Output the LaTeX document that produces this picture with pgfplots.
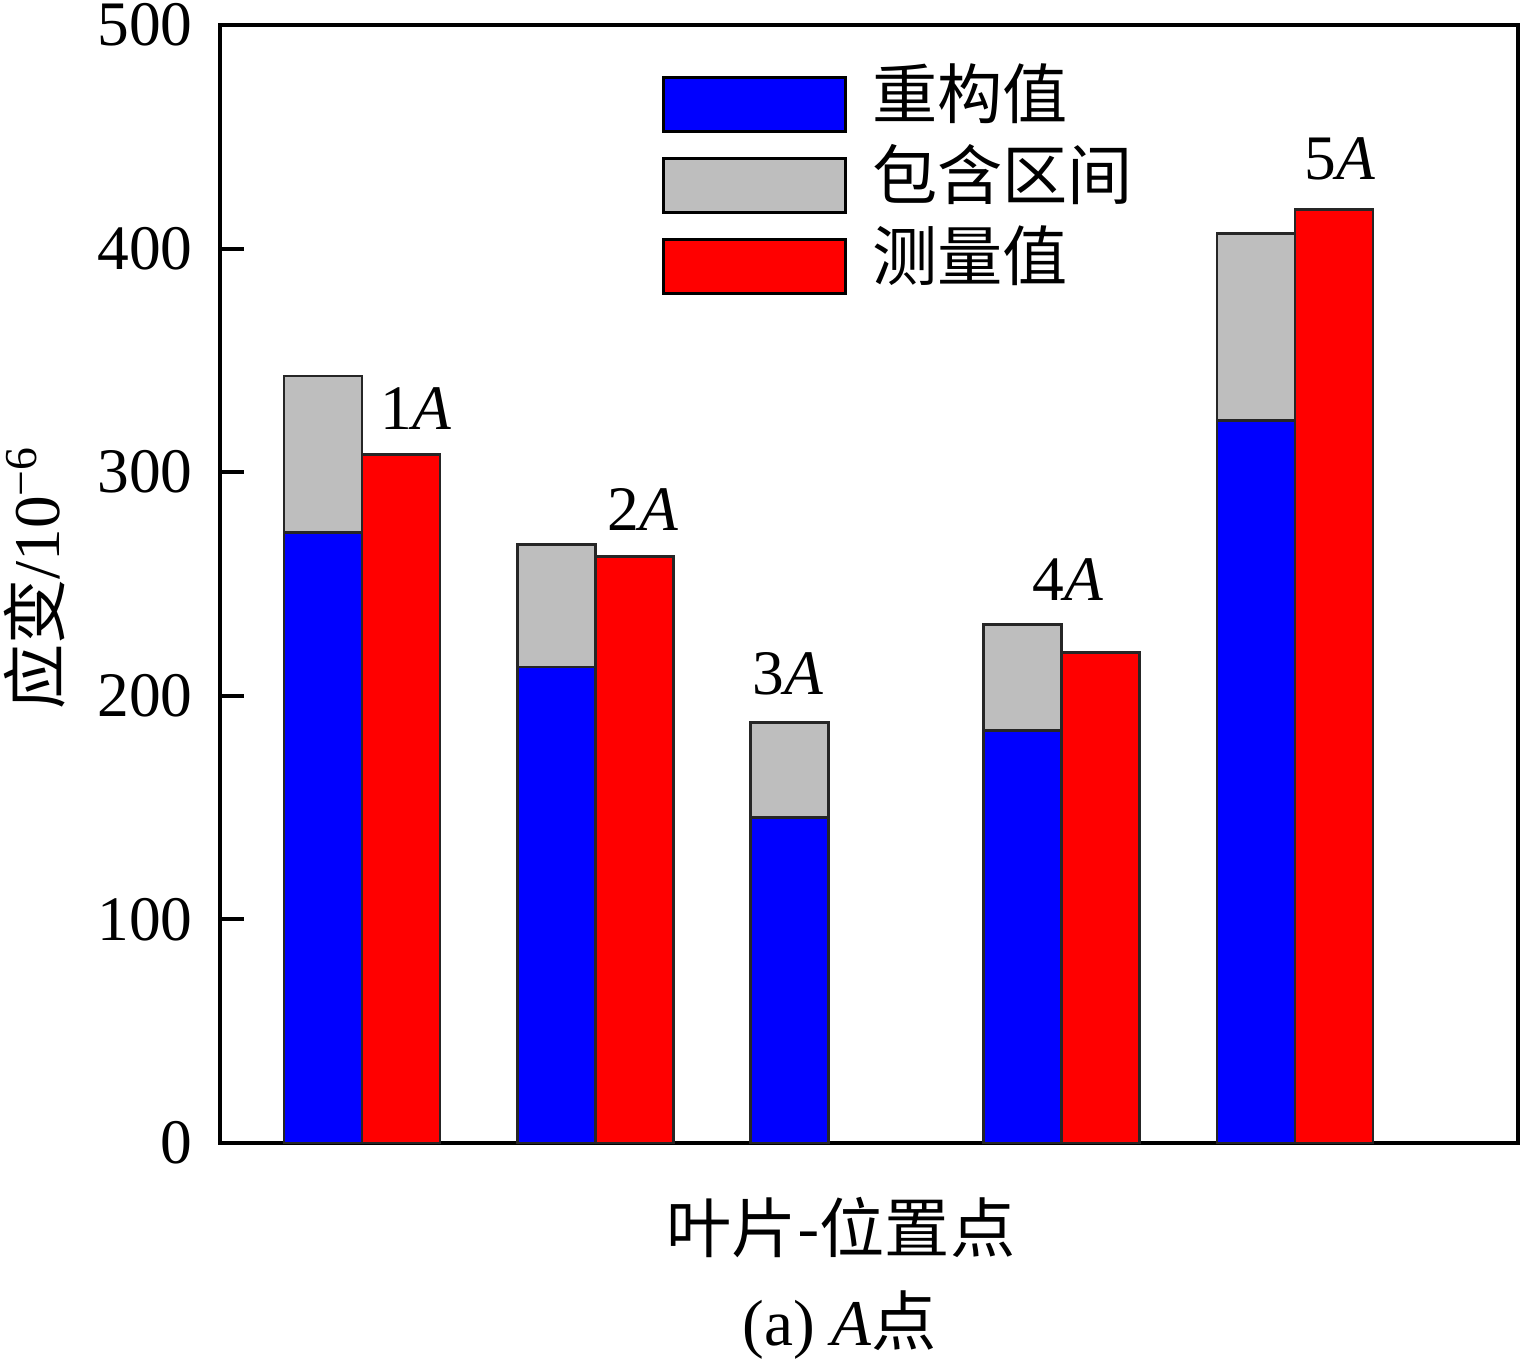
\documentclass[border=0pt]{standalone}
\usepackage{fontspec}
\setmainfont{Liberation Serif}
\newfontfamily\cjk{Noto Sans CJK SC}
\usepackage{pgfplots}
\pgfplotsset{compat=1.18}
\definecolor{barblue}{RGB}{0,0,255}
\definecolor{bargray}{RGB}{190,190,190}
\definecolor{barred}{RGB}{255,0,0}
\begin{document}
\begin{tikzpicture}
\begin{axis}[
  scale only axis, width=358.2pt, height=308.5pt,
  xmin=0.3912, xmax=5.956, ymin=0, ymax=500,
  axis line style={line width=1.1pt},
  xtick=\empty, ytick={0,100,...,500}, ytick pos=left,
  tick align=inside, major tick length=6.6pt,
  tick style={line width=1.1pt, black},
  yticklabel style={font=\fontsize{17.5}{20}\selectfont, inner sep=0pt, xshift=-7.4pt},
  /pgf/number format/assume math mode=true,
  ybar, bar width=0.3344, bar shift=0pt,
  clip=false,
  legend image code/.code={\draw[#1] (0pt,-7.5pt) rectangle (50.1pt,7.5pt);},
  legend cell align=left,
  legend style={at={(rel axis cs:0.3403,0.9657)}, anchor=north west,
    draw=none, fill=none, row sep=0pt, column sep=7pt, inner sep=0pt,
    nodes={inner sep=0pt, text height=15pt, text depth=7.35pt},
    font=\cjk\fontsize{18}{20}\selectfont},
]
\addlegendimage{fill=barblue, draw=black, line width=0.75pt}
\addlegendentry{重构值}
\addlegendimage{fill=bargray, draw=black, line width=0.75pt}
\addlegendentry{包含区间}
\addlegendimage{fill=barred, draw=black, line width=0.75pt}
\addlegendentry{测量值}
% inclusion interval upper bound (gray), drawn from 0
\addplot[forget plot, fill=bargray, draw=black!85, line width=0.75pt] coordinates {
  (0.833,343.0) (1.833,267.6) (2.833,188.1) (3.833,232.0) (4.833,406.8)};
% reconstructed value (blue)
\addplot[forget plot, fill=barblue, draw=black!85, line width=0.75pt] coordinates {
  (0.833,272.9) (1.833,212.8) (2.833,145.5) (3.833,184.4) (4.833,323.0)};
% measured value (red)
\addplot[forget plot, fill=barred, draw=black!85, line width=0.75pt] coordinates {
  (1.167,307.9) (2.167,262.4) (4.167,219.3) (5.167,417.6)};
\path (rel axis cs:-0.16949,-0.19678) rectangle (rel axis cs:1.003082,1.022361);
\begin{scope}[every node/.style={font=\fontsize{17.5}{20}\selectfont, anchor=base, inner sep=0pt}]
\node at (axis cs:1.232,319) {1\textit{A}};
\node at (axis cs:2.204,274) {2\textit{A}};
\node at (axis cs:2.826,200.4) {3\textit{A}};
\node at (axis cs:4.026,242.8) {4\textit{A}};
\node at (axis cs:5.193,430.7) {5\textit{A}};
\end{scope}
\node[font=\cjk\fontsize{18}{20}\selectfont, anchor=center, inner sep=0pt] at (rel axis cs:0.4784,-0.0761) {叶片-位置点};
\node[font=\fontsize{18}{20}\selectfont, anchor=center, inner sep=0pt] at (rel axis cs:0.4776,-0.1628) {(a) \textit{A}{\cjk 点}};
\node[font=\fontsize{18}{20}\selectfont, rotate=90, anchor=center, inner sep=0pt] at (rel axis cs:-0.1429,0.5054) {{\cjk 应变}/10\textsuperscript{−6}};
\end{axis}
\end{tikzpicture}
\end{document}
